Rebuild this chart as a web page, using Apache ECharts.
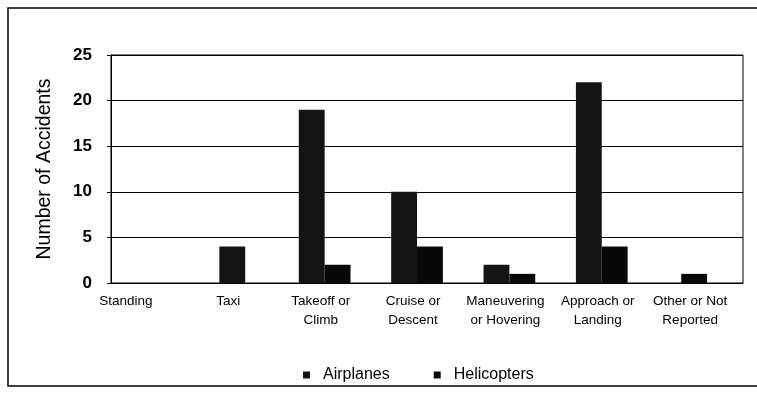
<!DOCTYPE html>
<html>
<head>
<meta charset="utf-8">
<script src="https://cdn.jsdelivr.net/npm/echarts@6/dist/echarts.min.js"></script>
<style>
  html, body { margin: 0; padding: 0; background: #fff; }
  #chart { width: 757px; height: 400px; }
</style>
</head>
<body>
<div id="chart"></div>
<script>
// Phases of flight and accident counts per aircraft type
const categories = ['Standing', 'Taxi', 'Takeoff or\nClimb', 'Cruise or\nDescent',
                    'Maneuvering\nor Hovering', 'Approach or\nLanding', 'Other or Not\nReported'];
const airplanes   = [0, 4, 19, 10, 2, 22, 0];
const helicopters = [0, 0, 2, 4, 1, 4, 1];
const yTicks = [0, 5, 10, 15, 20, 25];

const FONT = '"Liberation Sans", Arial, sans-serif';
const BAR_W = 0.28; // bar width in category units

// Pairs sit side by side around the category centre; a lone bar is centred.
function barRenderer(other, side) {
  return function (params, api) {
    const i = api.value(0);
    const v = api.value(1);
    if (!v) return null;
    const base = api.coord([i, 0]);
    const top = api.coord([i, v]);
    const w = api.size([BAR_W, 0])[0];
    let x0;
    if (other[i] > 0) x0 = side < 0 ? base[0] - w : base[0];
    else x0 = base[0] - w / 2;
    return {
      type: 'rect',
      shape: { x: x0, y: top[1], width: w, height: base[1] - top[1] },
      style: api.style()
    };
  };
}

const chart = echarts.init(document.getElementById('chart'), null, { renderer: 'canvas' });
chart.setOption({
  backgroundColor: '#fff',
  animation: false,
  textStyle: { fontFamily: FONT, color: '#000' },
  grid: {
    left: 111, right: 14, top: 55, bottom: 117,
    show: true, borderColor: '#000', borderWidth: 1
  },
  graphic: [{
    type: 'rect',
    shape: { x: 8, y: 8, width: 770, height: 378 },
    style: { fill: 'none', stroke: '#000', lineWidth: 1.5 },
    silent: true
  }],
  legend: {
    left: 298, top: 362,
    itemWidth: 7, itemHeight: 7, itemGap: 44,
    icon: 'rect',
    textStyle: { fontFamily: FONT, fontSize: 16, color: '#000', padding: [0, 0, 0, 8] },
    data: ['Airplanes', 'Helicopters']
  },
  xAxis: {
    type: 'value',
    min: -0.313, max: 6.529,
    axisLine: { show: true, onZero: false, lineStyle: { color: '#000', width: 1 } },
    axisTick: { show: false },
    splitLine: { show: false },
    axisLabel: {
      customValues: categories.map((c, i) => i),
      margin: 9,
      fontFamily: FONT, fontSize: 13.5, color: '#000', lineHeight: 19,
      formatter: function (v) {
        const name = categories[Math.round(v)];
        return Math.round(v) === 0 ? '{first|' + name + '}' : '{c|' + name + '}';
      },
      rich: {
        first: { fontFamily: FONT, fontSize: 13.5, lineHeight: 19, padding: [0, 28, 0, 0] },
        c: { fontFamily: FONT, fontSize: 13.5, lineHeight: 19, padding: [0, 8, 0, 0] }
      }
    }
  },
  yAxis: {
    type: 'value',
    min: yTicks[0], max: yTicks[yTicks.length - 1], interval: 5,
    name: 'Number of Accidents',
    nameLocation: 'middle',
    nameGap: 56,
    nameTextStyle: { fontFamily: FONT, fontSize: 19.5, color: '#000' },
    axisLine: { show: true, onZero: false, lineStyle: { color: '#000', width: 1 } },
    axisTick: { show: true, length: 4, lineStyle: { color: '#000' } },
    splitLine: { show: true, lineStyle: { color: '#000', width: 1 } },
    axisLabel: { margin: 19, fontFamily: FONT, fontSize: 17, fontWeight: 'bold', color: '#000' }
  },
  series: [
    {
      name: 'Airplanes',
      type: 'custom',
      renderItem: barRenderer(helicopters, -1),
      encode: { x: 0, y: 1 },
      itemStyle: { color: '#141414' },
      data: airplanes.map((v, i) => [i, v])
    },
    {
      name: 'Helicopters',
      type: 'custom',
      renderItem: barRenderer(airplanes, 1),
      encode: { x: 0, y: 1 },
      itemStyle: { color: '#080808' },
      data: helicopters.map((v, i) => [i, v])
    }
  ]
});
</script>
</body>
</html>
